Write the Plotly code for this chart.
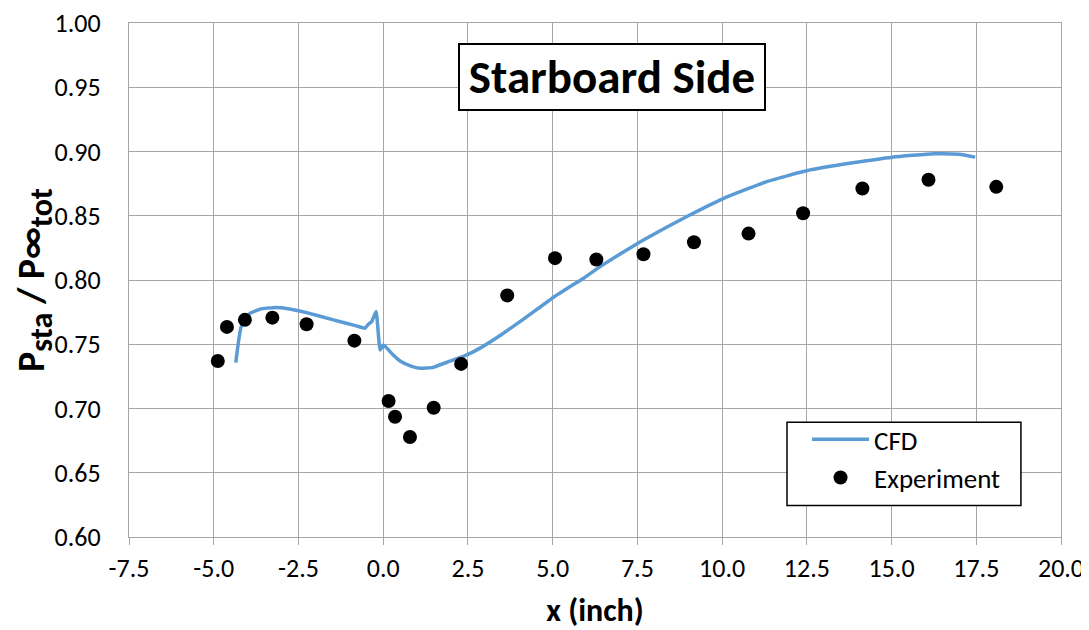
import plotly.graph_objects as go

# CFD curve (x in inch, Psta/Ptot)
cfd_x = [-4.35, -4.19, -3.93, -3.60, -3.24, -2.76, -2.26, -1.47, -0.82, -0.54, -0.42, -0.34,
         -0.21, -0.09, 0.01, 0.28, 0.50, 0.82, 1.09, 1.47, 1.88, 2.37, 2.86, 3.46, 4.14,
         5.05, 5.91, 6.40, 7.04, 7.68, 8.96, 10.02, 11.32, 12.52, 13.81, 15.02, 16.24, 16.99, 17.47]
cfd_y = [0.7357, 0.7637, 0.7740, 0.7775, 0.7785, 0.7775, 0.7746, 0.7690, 0.7645, 0.7625, 0.7660, 0.7676,
         0.7754, 0.7456, 0.7494, 0.7420, 0.7370, 0.7330, 0.7313, 0.7320, 0.7360, 0.7405, 0.7470, 0.7570, 0.7695,
         0.7870, 0.8014, 0.8104, 0.8210, 0.8312, 0.8494, 0.8632, 0.8766, 0.8852, 0.8910, 0.8956, 0.8982, 0.8978, 0.8956]

# Experiment
exp_x = [-4.88, -4.61, -4.08, -3.27, -2.26, -0.85, 0.16, 0.35, 0.79, 1.49, 2.30, 3.66,
         5.07, 6.29, 7.68, 9.17, 10.78, 12.39, 14.14, 16.09, 18.09]
exp_y = [0.737, 0.7635, 0.769, 0.7707, 0.7656, 0.7528, 0.7058, 0.6936, 0.6778, 0.7006, 0.7347, 0.788,
         0.817, 0.816, 0.820, 0.8294, 0.8361, 0.852, 0.8712, 0.878, 0.8725]

x_ticks = [-7.5, -5.0, -2.5, 0.0, 2.5, 5.0, 7.5, 10.0, 12.5, 15.0, 17.5, 20.0]
y_ticks = [0.60, 0.65, 0.70, 0.75, 0.80, 0.85, 0.90, 0.95, 1.00]

FONT = "Carlito, Calibri, Lato, 'Open Sans', sans-serif"
GRID = "#a6a6a6"

fig = go.Figure()
fig.add_trace(go.Scatter(x=cfd_x, y=cfd_y, mode="lines", name="CFD",
                         line=dict(color="#5b9bd5", width=3.5, shape="spline", smoothing=0.4)))
fig.add_trace(go.Scatter(x=exp_x, y=exp_y, mode="markers", name="Experiment",
                         marker=dict(color="black", size=14)))

fig.update_layout(
    width=1081, height=622,
    margin=dict(l=121, r=28, t=15, b=93, autoexpand=False),
    paper_bgcolor="white", plot_bgcolor="white",
    font=dict(family=FONT, size=26, color="black"),
    showlegend=True,
    legend=dict(x=0.7275, y=0.2368, xanchor="left", yanchor="top",
                bgcolor="rgba(0,0,0,0)", borderwidth=0,
                font=dict(size=27, family=FONT), itemwidth=57, tracegroupgap=4),
    xaxis=dict(range=[-7.5, 20.0], tickvals=x_ticks, ticktext=[f"{v:.1f}" for v in x_ticks],
               showgrid=True, gridcolor=GRID, gridwidth=1.3,
               showline=True, linecolor=GRID, linewidth=1.3, mirror=True,
               ticks="outside", tickcolor=GRID, ticklen=7, tickwidth=1.3, zeroline=False,
               tickfont=dict(size=26), automargin=False, ticklabelstandoff=1,
               ticklabeloverflow="allow",
               title=dict(text="<b>x (inch)</b>", font=dict(size=32), standoff=18)),
    yaxis=dict(range=[0.60, 1.00], tickvals=y_ticks, ticktext=[f"{v:.2f}" for v in y_ticks],
               showgrid=True, gridcolor=GRID, gridwidth=1.3,
               showline=True, linecolor=GRID, linewidth=1.3, mirror=True,
               ticks="", zeroline=False,
               tickfont=dict(size=26), automargin=False, ticklabelstandoff=22,
               ticklabeloverflow="allow",
               title=dict(text="<b>P<sub><span style='font-size:32px'>sta</span></sub> / P∞"
                               "<sub><span style='font-size:32px'>tot</span></sub></b>",
                          font=dict(size=38), standoff=4)),
)

# legend frame
fig.add_shape(type="rect", xref="paper", yref="paper", x0=0.706, x1=0.957, y0=0.0614, y1=0.2232,
              line=dict(color="black", width=1.5), fillcolor="white", layer="above")

fig.add_annotation(x=6.76, y=0.958, xref="x", yref="y", text="<b>Starboard Side</b>",
                   showarrow=False, font=dict(size=47, family=FONT, color="black"),
                   width=300, height=60,
                   bgcolor="white", bordercolor="black", borderwidth=2, borderpad=2)

fig.write_html("out.html")
